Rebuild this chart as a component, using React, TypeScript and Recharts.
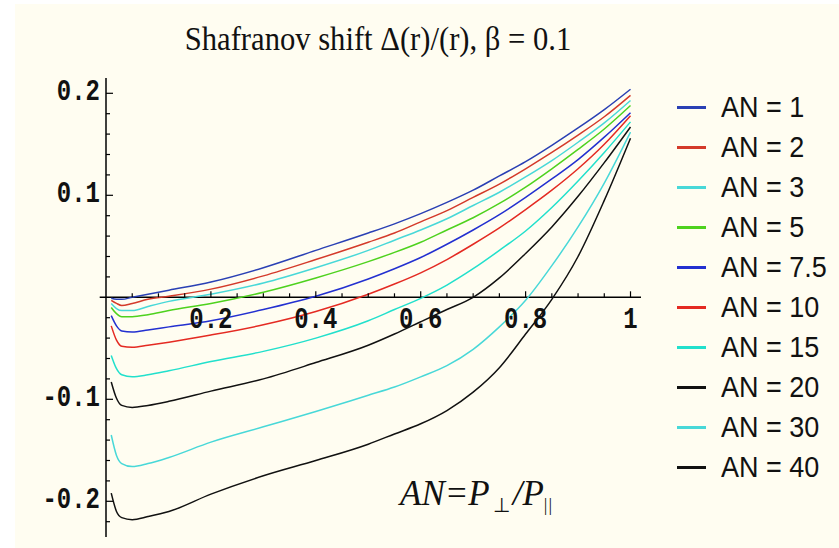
import React from 'react';
import { LineChart, Line, XAxis, YAxis, ReferenceLine, Legend } from 'recharts';

// r values sampled along the minor radius
const X_VALUES = [0.01, 0.02, 0.03, 0.05, 0.08, 0.12, 0.2, 0.3, 0.4, 0.5, 0.55, 0.6, 0.65, 0.7, 0.75, 0.8, 0.85, 0.9, 0.95, 1];

// Shafranov shift for each anisotropy AN
const AN_1 = [-0.001, -0.002, -0.002, 0.0, 0.003, 0.007, 0.015, 0.029, 0.046, 0.063, 0.072, 0.082, 0.093, 0.105, 0.119, 0.133, 0.149, 0.166, 0.184, 0.204];
const AN_2 = [-0.003, -0.006, -0.008, -0.006, -0.002, 0.001, 0.008, 0.021, 0.037, 0.054, 0.063, 0.074, 0.085, 0.098, 0.111, 0.126, 0.142, 0.159, 0.177, 0.198];
const AN_3 = [-0.006, -0.011, -0.013, -0.013, -0.009, -0.004, 0.003, 0.014, 0.029, 0.046, 0.056, 0.066, 0.077, 0.09, 0.103, 0.118, 0.134, 0.152, 0.171, 0.193];
const AN_5 = [-0.01, -0.016, -0.019, -0.019, -0.017, -0.013, -0.006, 0.005, 0.019, 0.035, 0.044, 0.054, 0.066, 0.078, 0.092, 0.108, 0.126, 0.145, 0.165, 0.188];
const AN_7_5 = [-0.018, -0.028, -0.033, -0.034, -0.032, -0.029, -0.023, -0.012, 0.001, 0.018, 0.028, 0.039, 0.052, 0.066, 0.081, 0.098, 0.116, 0.135, 0.157, 0.181];
const AN_10 = [-0.028, -0.042, -0.048, -0.049, -0.047, -0.044, -0.037, -0.027, -0.014, 0.003, 0.013, 0.024, 0.037, 0.052, 0.068, 0.086, 0.105, 0.126, 0.15, 0.178];
const AN_15 = [-0.057, -0.07, -0.076, -0.078, -0.076, -0.072, -0.063, -0.053, -0.04, -0.023, -0.012, -0.001, 0.012, 0.028, 0.046, 0.065, 0.088, 0.114, 0.142, 0.172];
const AN_20 = [-0.083, -0.099, -0.106, -0.108, -0.106, -0.102, -0.092, -0.08, -0.064, -0.047, -0.036, -0.024, -0.012, 0.0, 0.019, 0.043, 0.069, 0.099, 0.132, 0.167];
const AN_30 = [-0.135, -0.155, -0.163, -0.166, -0.163, -0.157, -0.142, -0.127, -0.112, -0.096, -0.088, -0.078, -0.067, -0.051, -0.029, -0.003, 0.031, 0.069, 0.112, 0.162];
const AN_40 = [-0.192, -0.21, -0.216, -0.218, -0.215, -0.21, -0.193, -0.175, -0.16, -0.144, -0.134, -0.124, -0.111, -0.093, -0.069, -0.036, -0.002, 0.04, 0.095, 0.156];

const X_TICKS = [0.05, 0.1, 0.15, 0.2, 0.25, 0.3, 0.35, 0.4, 0.45, 0.5, 0.55, 0.6, 0.65, 0.7, 0.75, 0.8, 0.85, 0.9, 0.95, 1];
const X_LABELS = [0.2, 0.4, 0.6, 0.8, 1];
const Y_TICKS = [-0.22, -0.2, -0.18, -0.16, -0.14, -0.12, -0.1, -0.08, -0.06, -0.04, -0.02, 0.02, 0.04, 0.06, 0.08, 0.1, 0.12, 0.14, 0.16, 0.18, 0.2];
const Y_LABELS = [-0.2, -0.1, 0.1, 0.2];

const SERIES = [
  { key: 'an1', name: 'AN = 1', values: AN_1, color: '#2a40b4' },
  { key: 'an2', name: 'AN = 2', values: AN_2, color: '#d43a2a' },
  { key: 'an3', name: 'AN = 3', values: AN_3, color: '#48d8d8' },
  { key: 'an5', name: 'AN = 5', values: AN_5, color: '#4ed21e' },
  { key: 'an7_5', name: 'AN = 7.5', values: AN_7_5, color: '#2330d0' },
  { key: 'an10', name: 'AN = 10', values: AN_10, color: '#e42a22' },
  { key: 'an15', name: 'AN = 15', values: AN_15, color: '#22e0cc' },
  { key: 'an20', name: 'AN = 20', values: AN_20, color: '#111111' },
  { key: 'an30', name: 'AN = 30', values: AN_30, color: '#48d8d8' },
  { key: 'an40', name: 'AN = 40', values: AN_40, color: '#111111' },
];

const data = X_VALUES.map((x, i) => {
  const row: Record<string, number> = { x };
  SERIES.forEach((s) => {
    row[s.key] = s.values[i];
  });
  return row;
});

const W = 839;
const H = 548;
const MARGIN = { top: 78, right: 198, bottom: 10, left: 0 };
const Y_AXIS_W = 106;
const X_AXIS_H = 1;
const Y_MIN = -0.235;
const Y_MAX = 0.215;
const X_MAX = 1.02;
const PLOT_H = H - MARGIN.top - MARGIN.bottom - X_AXIS_H;
const ZERO_Y = MARGIN.top + (PLOT_H * Y_MAX) / (Y_MAX - Y_MIN);
const AXIS_X = MARGIN.left + Y_AXIS_W;

const tickFont = {
  fontFamily: '"Liberation Mono", "DejaVu Sans Mono", monospace',
  fontWeight: 700,
  fontSize: 24,
  fill: '#111',
};

const XTick = (props: any) => {
  const { x, payload } = props;
  const major = X_LABELS.includes(payload.value);
  return (
    <g>
      <line x1={x} x2={x} y1={ZERO_Y} y2={ZERO_Y - (major ? 6 : 4)} stroke="#000" strokeWidth={1.2} />
      {major && (
        <text transform={`translate(${x},${ZERO_Y + 23}) scale(1,1.2)`} textAnchor="middle" dominantBaseline="central" {...tickFont}>
          {String(payload.value)}
        </text>
      )}
    </g>
  );
};

const YTick = (props: any) => {
  const { y, payload } = props;
  const major = Y_LABELS.includes(payload.value);
  return (
    <g>
      <line x1={AXIS_X} x2={AXIS_X + (major ? 7 : 4)} y1={y} y2={y} stroke="#000" strokeWidth={1.2} />
      {major && (
        <text transform={`translate(${AXIS_X - 6},${y - 1}) scale(1,1.2)`} textAnchor="end" dominantBaseline="central" {...tickFont}>
          {String(payload.value)}
        </text>
      )}
    </g>
  );
};

const LegendBox = () => (
  <div>
    {SERIES.map((s) => (
      <div key={s.key} style={{ display: 'flex', alignItems: 'center', height: 40 }}>
        <div style={{ width: 29, height: 3, background: s.color, marginRight: 15 }} />
        <span
          style={{
            fontFamily: '"Liberation Sans", Arial, sans-serif',
            fontSize: 27,
            color: '#111',
            lineHeight: '40px',
            display: 'inline-block',
            transform: 'scaleY(1.1)',
          }}
        >
          {s.name}
        </span>
      </div>
    ))}
  </div>
);

export default function App() {
  return (
    <div style={{ position: 'absolute', left: 0, top: 0, width: W, height: H, background: '#ffffff', overflow: 'hidden' }}>
      <div style={{ position: 'absolute', left: 15, top: 4, right: 0, bottom: 0, background: '#fffdf1' }} />
      <div style={{ position: 'absolute', left: 0, top: 0 }}>
        <LineChart width={W} height={H} data={data} margin={MARGIN}>
          <XAxis
            dataKey="x"
            type="number"
            domain={[0, X_MAX]}
            ticks={X_TICKS}
            interval={0}
            axisLine={false}
            tickLine={false}
            height={X_AXIS_H}
            tick={(p: any) => <XTick {...p} />}
          />
          <YAxis
            type="number"
            domain={[Y_MIN, Y_MAX]}
            ticks={Y_TICKS}
            interval={0}
            width={Y_AXIS_W}
            tickLine={false}
            axisLine={{ stroke: '#000', strokeWidth: 1.5 }}
            allowDataOverflow
            tick={(p: any) => <YTick {...p} />}
          />
          <ReferenceLine
            segment={[{ x: -0.012, y: 0 }, { x: X_MAX, y: 0 }]}
            stroke="#000"
            strokeWidth={1.5}
            ifOverflow="visible"
          />
          {SERIES.map((s) => (
            <Line
              key={s.key}
              dataKey={s.key}
              name={s.name}
              type="monotone"
              stroke={s.color}
              strokeWidth={1.5}
              dot={false}
              isAnimationActive={false}
            />
          ))}
          <Legend
            layout="vertical"
            align="center"
            verticalAlign="middle"
            content={() => <LegendBox />}
            wrapperStyle={{ left: 677, top: 87, width: 160 }}
          />
        </LineChart>
      </div>
      <div
        style={{
          position: 'absolute',
          left: 0,
          width: 756,
          top: 22,
          textAlign: 'center',
          fontFamily: '"Liberation Serif", "Times New Roman", serif',
          fontSize: 34,
          lineHeight: '34px',
          color: '#111',
          transform: 'scaleX(0.9)',
          transformOrigin: '378px 0',
          whiteSpace: 'nowrap',
        }}
      >
        Shafranov shift Δ(r)/(r), β = 0.1
      </div>
      <div
        style={{
          position: 'absolute',
          left: 400,
          top: 476,
          fontFamily: '"Liberation Serif", "Times New Roman", serif',
          fontStyle: 'italic',
          fontSize: 35,
          lineHeight: '35px',
          color: '#111',
          whiteSpace: 'nowrap',
        }}
      >
        AN=P
        <span style={{ fontStyle: 'normal', fontSize: 20, position: 'relative', top: 7, margin: '0 3px' }}>⊥</span>
        /P
        <span style={{ fontStyle: 'normal', fontSize: 18, position: 'relative', top: 6, letterSpacing: 1 }}>||</span>
      </div>
    </div>
  );
}
